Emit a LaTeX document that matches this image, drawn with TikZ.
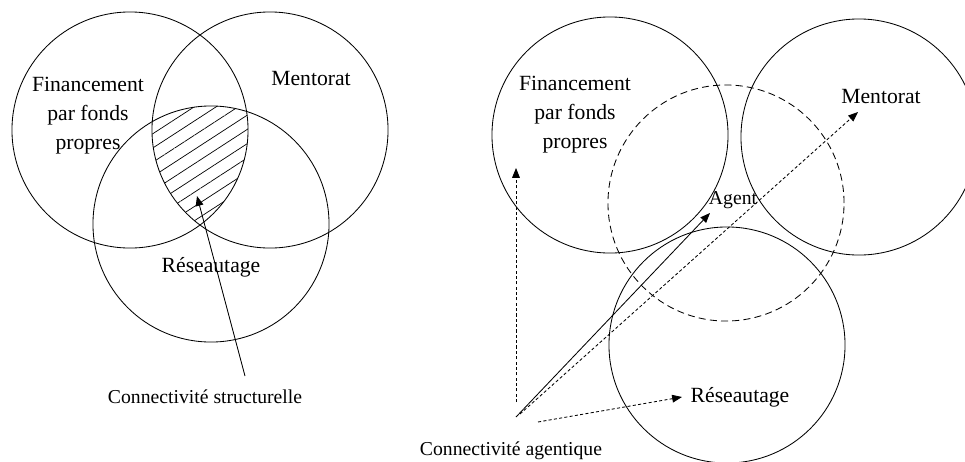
\documentclass[tikz,border=0pt]{standalone}
\usepackage{fontspec}
\setmainfont{Liberation Serif}
\usetikzlibrary{arrows.meta,patterns.meta}

\tikzset{
  ensemble/.style={draw, circle, line width=0.6pt, minimum size=5.9cm, inner sep=0pt},
  etiq/.style={font=\fontsize{15.4}{20.6}\selectfont, align=center, inner sep=0pt},
  petit/.style={font=\fontsize{14}{17}\selectfont, inner sep=0pt},
  fleche/.style={-{Triangle[length=7pt,width=5.5pt]}, line width=0.6pt},
  pointille/.style={fleche, dash pattern=on 2.2pt off 1.6pt},
}

\begin{document}
\begin{tikzpicture}[x=0.025cm, y=-0.025cm]
  \useasboundingbox (0,0) rectangle (965,461);

  % connectivite structurelle
  \node[ensemble] (fa) at (130,130) {};
  \node[ensemble] (ma) at (270,130) {};
  \node[ensemble] (ra) at (211,224) {};
  \begin{scope}
    \clip (fa.center) circle (2.95cm);
    \clip (ma.center) circle (2.95cm);
    \fill[pattern={Lines[angle=33,distance=8.5pt,line width=0.5pt]}] (ra.center) circle (2.95cm);
  \end{scope}

  \node[etiq] (fin1) at (88,116) {Financement\\par fonds\\propres};
  \node[etiq] (men1) at (311,79) {Mentorat};
  \node[etiq] (res1) at (211,267) {Réseautage};
  \node[petit] (cs) at (205,397) {Connectivité structurelle};

  \coordinate (cs-pt) at (245,376);
  \coordinate (cible) at (197,196);
  \draw[fleche] (cs-pt) -- (cible);

  % connectivite agentique
  \node[ensemble] (fb) at (610,135) {};
  \node[ensemble] (mb) at (859,137) {};
  \node[ensemble] (rb) at (727,345) {};
  \node[ensemble, dash pattern=on 5pt off 3pt] (ag) at (726,203) {};

  \node[etiq] (fin2) at (575,115) {Financement\\par fonds\\propres};
  \node[etiq] (men2) at (881,97) {Mentorat};
  \node[petit] (agent) at (733,200) {Agent};
  \node[etiq] (res2) at (740,397) {Réseautage};
  \node[petit, anchor=base] (ca) at (511,455) {Connectivité agentique};

  \coordinate (o1) at (516,417);
  \coordinate (o2) at (520,414);
  \coordinate (o3) at (516,402);
  \coordinate (o4) at (538,422);
  \coordinate (vers-fin) at (516,168);
  \coordinate (vers-men) at (858,112);
  \coordinate (vers-ag) at (710,213);
  \coordinate (vers-res) at (682,397);

  \draw[fleche] (o1) -- (vers-ag);
  \draw[pointille] (o2) -- (vers-men);
  \draw[pointille] (o3) -- (vers-fin);
  \draw[pointille] (o4) -- (vers-res);
\end{tikzpicture}
\end{document}
